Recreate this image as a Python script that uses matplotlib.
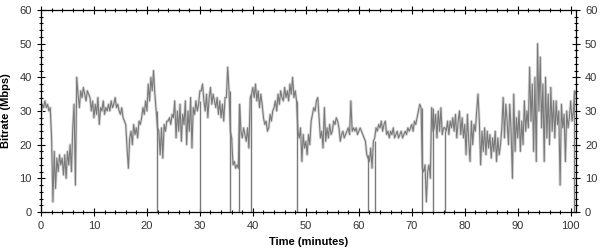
import numpy as np
import matplotlib.pyplot as plt
from matplotlib.ticker import MultipleLocator

plt.rcParams['font.family'] = ['Liberation Sans', 'DejaVu Sans']

# bitrate samples every 0.25 minute (Mbps), one row per minute
bitrate = [
    28, 32, 31, 33,   31, 32, 30, 31,   22, 3, 18, 7,     16, 12, 17, 14,
    16, 11, 17, 10,   18, 14, 20, 12,   25, 32, 8, 40,    35, 31, 36, 34,
    37, 35, 33, 36,   35, 34, 30, 33,   28, 32, 29, 34,   26, 31, 30, 33,
    29, 31, 30, 32,   30, 33, 31, 32,   34, 31, 32, 30,   29, 31, 28, 27,
    26, 19, 13, 22,   24, 20, 26, 23,   25, 22, 27, 26,   28, 31, 29, 33,
    30, 38, 33, 40,   36, 42, 35, 30,   25, 24, 17, 25,   16, 26, 24, 27,
    27, 28, 26, 29,   28, 33, 22, 30,   24, 32, 21, 29,   26, 33, 20, 30,
    24, 34, 19, 31,   29, 33, 30, 32,   36, 36, 38, 33,   30, 35, 28, 34,
    37, 32, 35, 33,   31, 34, 29, 33,   28, 32, 27, 34,   34, 43, 36, 24,
    22, 14, 15, 13,   14, 13, 32, 24,   22, 25, 23, 21,   25, 19, 34, 35,
    37, 34, 38, 33,   36, 31, 35, 32,   28, 26, 27, 24,   25, 29, 27, 30,
    31, 33, 30, 35,   32, 36, 34, 33,   37, 34, 36, 33,   38, 35, 40, 34,
    36, 33, 24, 22,   25, 15, 23, 19,   21, 17, 23, 20,   27, 29, 31, 30,
    33, 34, 28, 22,   24, 19, 31, 21,   25, 22, 26, 23,   24, 27, 26, 28,
    27, 25, 21, 23,   24, 22, 23, 24,   25, 23, 33, 24,   25, 24, 25, 23,
    24, 25, 24, 23,   22, 21, 17, 16,   15, 19, 13, 21,   22, 25, 24, 26,
    25, 27, 24, 26,   27, 23, 24, 22,   24, 23, 25, 22,   23, 24, 22, 23,
    24, 22, 23, 24,   23, 25, 24, 25,   26, 24, 27, 26,   28, 30, 32, 31,
    13, 12, 14, 3,    12, 14, 10, 31,   24, 25, 29, 22,   30, 24, 31, 23,
    25, 25, 24, 27,   23, 27, 25, 28,   24, 29, 22, 27,   30, 23, 28, 22,
    26, 17, 29, 21,   15, 27, 20, 26,   24, 30, 35, 27,   14, 24, 18, 25,
    17, 24, 19, 23,   16, 22, 18, 24,   15, 22, 17, 20,   25, 34, 22, 32,
    27, 20, 32, 24,   10, 35, 18, 28,   22, 30, 18, 27,   20, 33, 24, 30,
    25, 43, 27, 38,   18, 40, 15, 50,   30, 46, 25, 38,   15, 40, 22, 35,
    20, 37, 24, 33,   22, 33, 26, 30,   8, 32, 25, 29,    15, 30, 25, 28,
    33, 27, 30, 36,   35,
]
minutes = np.arange(len(bitrate)) * 0.25

# short outages where the bitrate fell to zero: time (min) and level just before
drop_minutes = [21.9, 30.0, 35.7, 37.3, 39.6, 48.4, 61.8, 63.0, 71.9, 74.0, 76.3, 100.6]
drop_tops = [30, 33, 36, 32, 35, 33, 17, 21, 31, 31, 24, 36]

fig = plt.figure(figsize=(6.0, 2.49), dpi=100)
ax = fig.add_axes([0.0683, 0.1486, 0.8917, 0.8112])

ax.plot(minutes, bitrate, color='#d8d8d8', lw=2.0)
ax.plot(minutes, bitrate, color='#7a7a7a', lw=0.8)
ax.vlines(drop_minutes, 0, drop_tops, color='#7a7a7a', lw=1.0)

ax.set_xlim(0, 101)
ax.set_ylim(0, 60)
ax.xaxis.set_major_locator(MultipleLocator(10))
ax.xaxis.set_minor_locator(MultipleLocator(2))
ax.yaxis.set_major_locator(MultipleLocator(10))
ax.yaxis.set_minor_locator(MultipleLocator(2))
ax.tick_params(which='both', direction='inout', top=True, right=True,
               labelright=True, labelsize=8, labelcolor='#333333', width=0.8)
ax.tick_params(which='major', length=6)
ax.tick_params(which='minor', length=3)
for s in ax.spines.values():
    s.set_linewidth(0.9)

ax.set_xlabel('Time (minutes)', fontsize=8, fontweight='bold', labelpad=4)
ax.set_ylabel('Bitrate (Mbps)', fontsize=8, fontweight='bold', labelpad=6)

fig.savefig('out.png', dpi=100)
